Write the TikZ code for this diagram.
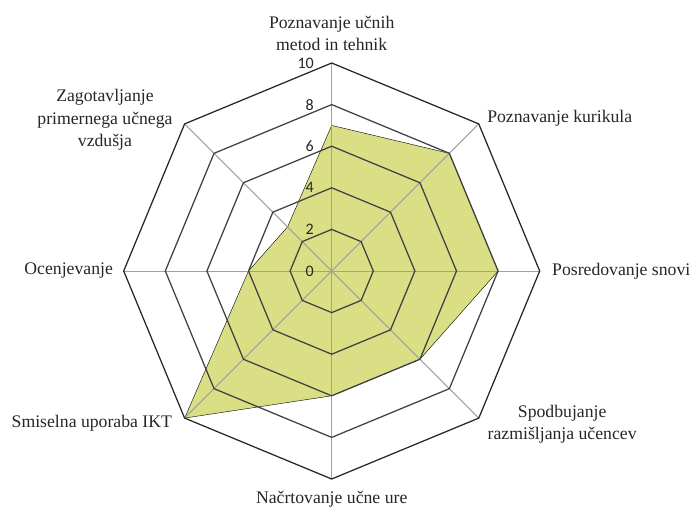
\documentclass[tikz,border=0pt]{standalone}
\usepackage{fontspec}
\setmainfont{Liberation Serif}
\newfontfamily\numfont{Carlito}
\usepackage{tikz}
\definecolor{areafill}{RGB}{218,222,132}
\definecolor{ringgray}{RGB}{64,64,64}
\definecolor{axisgray}{RGB}{160,160,160}
\tikzstyle{ring} = [draw=ringgray, line width=1.25pt]
\tikzstyle{outerring} = [draw=black!85, line width=1.25pt]
\tikzstyle{axis} = [draw=axisgray, line width=1pt]
\tikzstyle{area} = [fill=areafill]
\tikzstyle{category} = [font=\fontsize{17.7}{22.5}\selectfont, text=black!85, inner sep=0pt, align=center]
\tikzstyle{tick} = [font=\numfont\fontsize{16}{16}\selectfont, text=black!85, anchor=east, inner sep=0pt]

\begin{document}
\begin{tikzpicture}[x=20.8pt, y=20.8pt]
        \useasboundingbox (-15.947,-11.394) rectangle (17.322,13.029);
        % data area
        \draw [area] (90:7) -- (45:8) -- (0:8) -- (-45:6) -- (-90:6) -- (-135:10) -- (180:4) -- (135:3) -- cycle;
        % spokes
        \draw [axis] (90:10) -- (-90:10);
        \draw [axis] (45:10) -- (-135:10);
        \draw [axis] (0:10) -- (180:10);
        \draw [axis] (-45:10) -- (135:10);
        % rings
        \draw [ring] (90:2) -- (45:2) -- (0:2) -- (-45:2) -- (-90:2) -- (-135:2) -- (180:2) -- (135:2) -- cycle;
        \draw [ring] (90:4) -- (45:4) -- (0:4) -- (-45:4) -- (-90:4) -- (-135:4) -- (180:4) -- (135:4) -- cycle;
        \draw [ring] (90:6) -- (45:6) -- (0:6) -- (-45:6) -- (-90:6) -- (-135:6) -- (180:6) -- (135:6) -- cycle;
        \draw [ring] (90:8) -- (45:8) -- (0:8) -- (-45:8) -- (-90:8) -- (-135:8) -- (180:8) -- (135:8) -- cycle;
        \draw [outerring] (90:10) -- (45:10) -- (0:10) -- (-45:10) -- (-90:10) -- (-135:10) -- (180:10) -- (135:10) -- cycle;
        % scale
        \node (t0) [tick] at (-0.85,0) {0};
        \node (t2) [tick] at (-0.85,2) {2};
        \node (t4) [tick] at (-0.85,4) {4};
        \node (t6) [tick] at (-0.85,6) {6};
        \node (t8) [tick] at (-0.85,8) {8};
        \node (t10) [tick] at (-0.85,10) {10};
        % categories
        \node (metode) [category] at (0,11.42) {Poznavanje učnih\\metod in tehnik};
        \node (kurikul) [category, anchor=west] at (7.47,7.36) {Poznavanje kurikula};
        \node (snov) [category, anchor=west] at (10.59,0) {Posredovanje snovi};
        \node (razmisljanje) [category] at (11.08,-7.36) {Spodbujanje\\razmišljanja učencev};
        \node (nacrtovanje) [category] at (0,-10.96) {Načrtovanje učne ure};
        \node (ikt) [category, anchor=east] at (-7.67,-7.31) {Smiselna uporaba IKT};
        \node (ocenjevanje) [category, anchor=east] at (-10.51,0) {Ocenjevanje};
        \node (vzdusje) [category] at (-10.9,7.26) {Zagotavljanje\\primernega učnega\\vzdušja};
    \end{tikzpicture}
\end{document}
